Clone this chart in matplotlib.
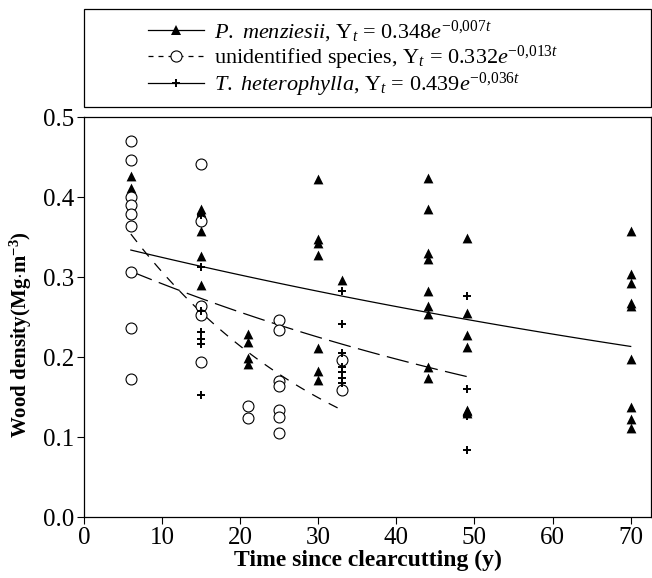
import numpy as np
import matplotlib
matplotlib.use("Agg")
import matplotlib.pyplot as plt
from matplotlib.lines import Line2D
from matplotlib.patches import Rectangle

plt.rcParams['font.family'] = ['Liberation Serif', 'DejaVu Serif']
plt.rcParams['mathtext.fontset'] = 'custom'
plt.rcParams['mathtext.rm'] = 'Liberation Serif'
plt.rcParams['mathtext.it'] = 'Liberation Serif:italic'
plt.rcParams['mathtext.bf'] = 'Liberation Serif:bold'

# P. menziesii (filled triangles)
pm_t = [6, 6,
        15, 15, 15, 15, 15,
        21, 21, 21, 21,
        30, 30, 30, 30, 30, 30, 30,
        33,
        44, 44, 44, 44, 44, 44, 44, 44, 44,
        49, 49, 49, 49, 49, 49, 49,
        70, 70, 70, 70, 70, 70, 70, 70, 70]
pm_y = [0.426, 0.411,
        0.385, 0.381, 0.358, 0.326, 0.290,
        0.229, 0.219, 0.199, 0.191,
        0.423, 0.347, 0.343, 0.328, 0.211, 0.183, 0.171,
        0.296,
        0.424, 0.385, 0.330, 0.323, 0.283, 0.264, 0.254, 0.187, 0.174,
        0.349, 0.255, 0.228, 0.213, 0.134, 0.132, 0.130,
        0.357, 0.304, 0.292, 0.268, 0.264, 0.198, 0.138, 0.122, 0.111]

# unidentified species (open circles)
us_t = [6, 6, 6, 6, 6, 6, 6, 6, 6,
        15, 15, 15, 15, 15,
        21, 21,
        25, 25, 25, 25, 25, 25, 25,
        33, 33]
us_y = [0.470, 0.446, 0.400, 0.390, 0.379, 0.364, 0.306, 0.236, 0.172,
        0.441, 0.370, 0.264, 0.252, 0.194,
        0.139, 0.124,
        0.246, 0.234, 0.170, 0.164, 0.134, 0.125, 0.105,
        0.196, 0.159]

# T. heterophylla (plus)
th_t = [15, 15, 15, 15, 15, 15, 15,
        33, 33, 33, 33, 33, 33, 33,
        49, 49, 49, 49]
th_y = [0.378, 0.313, 0.258, 0.231, 0.223, 0.216, 0.152,
        0.283, 0.241, 0.205, 0.187, 0.181, 0.174, 0.168,
        0.276, 0.160, 0.126, 0.084]

# fitted models Y = a * exp(b t), drawn between t0 and t1
pm_fit = (0.348, -0.007, 6, 70)
us_fit = (0.332, -0.013, 6, 49)
th_fit = (0.439, -0.036, 6, 33)

fig = plt.figure(figsize=(6.52, 5.78), dpi=100)
ax = fig.add_axes([84 / 652, 1 - 517 / 578, 567 / 652, 400 / 578])

def curve(fit):
    a, b, t0, t1 = fit
    t = np.linspace(t0, t1, 100)
    return t, a * np.exp(b * t)

t, y = curve(pm_fit)
ax.plot(t, y, color='black', lw=0.9, ls='-')
t, y = curve(us_fit)
ax.plot(t, y, color='black', lw=0.9, ls=(0, (18, 6)))
t, y = curve(th_fit)
ax.plot(t, y, color='black', lw=0.9, ls=(0, (8, 7)))

ax.scatter(pm_t, pm_y, marker='^', s=50, color='black', zorder=3, linewidths=0)
ax.scatter(us_t, us_y, marker='o', s=62, facecolors='white', edgecolors='black',
           linewidths=0.8, zorder=3)
ax.scatter(th_t, th_y, marker='+', s=30, color='black', linewidths=1.4, zorder=4)

ax.set_xlim(0, 72.6)
ax.set_ylim(0, 0.5)
ax.set_xticks(range(0, 80, 10))
ax.set_yticks([0.0, 0.1, 0.2, 0.3, 0.4, 0.5])
ax.set_yticklabels(['0.0', '0.1', '0.2', '0.3', '0.4', '0.5'])
ax.tick_params(direction='out', length=5, width=0.8, labelsize=18, pad=2,
               top=False, right=False)
for s in ax.spines.values():
    s.set_linewidth(0.9)

ax.set_xlabel('Time since clearcutting (y)', fontsize=17, fontweight='bold', labelpad=1)
ax.set_ylabel(r'Wood density(Mg$\cdot$m$^{\mathbf{-3}}$)', fontsize=15,
              fontweight='bold')
ax.yaxis.set_label_coords(-0.088, 0.455)

# legend box above the axes
fig.patches.append(Rectangle((84 / 652, 1 - 107 / 578), 567 / 652, 98 / 578,
                             transform=fig.transFigure, fill=False,
                             edgecolor='black', lw=0.9))

handles = [
    Line2D([], [], color='black', lw=0.9, ls='-', marker='^', markersize=7, markeredgewidth=0),
    Line2D([], [], color='black', lw=0.9, ls=(0, (4, 4)), marker='o', markersize=8,
           markerfacecolor='white', markeredgewidth=0.8),
    Line2D([], [], color='black', lw=0.9, ls='-', marker='+', markersize=6, markeredgewidth=1.4),
]
labels = [
    r'$\it{P.}$ $\it{menziesii}$, Y$_t$ = 0.348$e^{\mathrm{-0{,}007}t}$',
    r'unidentified species, Y$_t$ = 0.332$e^{\mathrm{-0{,}013}t}$',
    r'$\it{T.}$ $\it{heterophylla}$, Y$_t$ = 0.439$e^{\mathrm{-0{,}036}t}$',
]
fig.legend(handles, labels, loc='center left', bbox_to_anchor=(148 / 652, 1 - 59 / 578),
           frameon=False, fontsize=16, handlelength=2.5, handletextpad=0.45,
           labelspacing=-0.04, borderpad=0, borderaxespad=0)

fig.savefig('out.png', dpi=100)
